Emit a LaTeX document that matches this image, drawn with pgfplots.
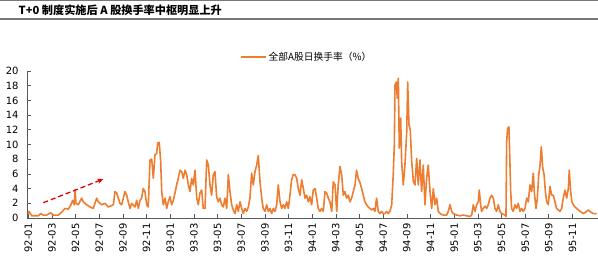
\documentclass[border=0pt]{standalone}
\usepackage{pgfplots}
\pgfplotsset{compat=1.18}
\usetikzlibrary{arrows.meta}
\usepackage{fontspec}
\setmainfont{DejaVu Sans}
\newfontfamily\cjk{Noto Sans CJK SC}
\definecolor{lineor}{RGB}{237,125,49}
\definecolor{axgray}{RGB}{89,89,89}
\begin{document}
\begin{tikzpicture}
\path[use as bounding box] (0,0) rectangle (598bp,256bp);
\draw[color={rgb,255:red,120;green,120;blue,120}, line width=1.3bp] (0,255.3bp) -- (598bp,255.3bp);
\draw[color={rgb,255:red,120;green,120;blue,120}, line width=1.3bp] (0,237bp) -- (598bp,237bp);
\node[anchor=west, inner sep=0pt] at (18.5bp,246bp) {\cjk\bfseries\fontsize{11.2}{13}\selectfont T+0 制度实施后 A 股换手率中枢明显上升};
\begin{axis}[
  at={(27bp,38bp)}, anchor=south west,
  scale only axis, width=571bp, height=147bp,
  xmin=-0.11, xmax=48.16, ymin=0, ymax=20,
  axis x line=bottom, axis y line=left,
  axis line style={-, draw=axgray, line width=0.8bp},
  tick style={draw=axgray, line width=0.6bp},
  tick align=inside,
  major tick length=3.5bp,
  ytick={0,2,...,20},
  xtick={0,2,...,46},
  xticklabels={92-01,92-03,92-05,92-07,92-09,92-11,93-01,93-03,93-05,93-07,93-09,93-11,94-01,94-03,94-05,94-07,94-09,94-11,95-01,95-03,95-05,95-07,95-09,95-11},
  /pgf/number format/assume math mode=true,
  ticklabel style={font=\fontsize{10}{12}\selectfont},
  x tick label style={rotate=90, anchor=east, xshift=0bp},
  xticklabel shift=2bp,
  yticklabel shift=5bp,
  legend style={at={(0.49,1.095)}, anchor=center, draw=none, fill=none, font=\cjk\fontsize{9.8}{11}\selectfont, inner sep=0pt},
  legend image code/.code={\draw[#1] (0bp,0bp) -- (25bp,0bp);},
  clip=false,
]
\addplot[color=lineor, line width=1.6bp, line join=round] coordinates {
(0.00,0.6)(0.06,0.9)(0.29,0.3)(0.57,0.3)(0.85,0.3)(1.05,0.6)(1.27,0.4)(1.55,0.4)(1.89,0.7)(2.11,0.4)(2.54,0.4)(2.82,0.8)(3.10,1.3)(3.38,1.2)(3.61,1.8)(3.75,2.4)(3.89,1.8)(3.95,3.8)(4.03,2.0)(4.23,1.8)(4.51,2.7)(4.65,2.2)(4.93,1.8)(5.22,1.5)(5.49,1.3)(5.78,2.7)(5.92,2.2)(6.20,1.8)(6.48,2.0)(6.76,1.5)(7.19,1.8)(7.33,3.6)(7.47,3.4)(7.61,2.7)(7.75,2.0)(7.89,1.8)(8.17,3.6)(8.32,3.1)(8.45,2.2)(8.60,1.3)(8.74,2.0)(9.02,1.5)(9.16,2.4)(9.30,1.3)(9.44,2.4)(9.58,2.7)(9.72,4.0)(9.86,3.6)(10.01,1.8)(10.14,1.5)(10.29,7.9)(10.43,8.0)(10.57,5.4)(10.71,8.6)(10.85,8.8)(10.94,10.2)(11.07,10.3)(11.19,7.7)(11.28,3.6)(11.41,1.8)(11.56,2.7)(11.70,1.3)(11.83,2.2)
(11.98,2.9)(12.12,1.8)(12.26,2.4)(12.40,3.4)(12.54,4.5)(12.68,5.4)(12.82,6.5)(12.97,6.3)(13.10,5.4)(13.25,6.5)(13.39,5.9)(13.53,4.5)(13.67,3.6)(13.81,5.4)(13.95,4.5)(14.09,6.5)(14.24,2.7)(14.37,1.8)(14.51,3.4)(14.66,3.8)(14.79,1.3)(14.94,1.3)(15.08,7.9)(15.22,7.2)(15.36,4.5)(15.50,3.1)(15.64,5.9)(15.78,6.3)(15.92,2.9)(16.06,2.2)(16.20,2.7)(16.35,1.8)(16.48,1.5)(16.63,2.7)(16.77,1.3)(16.91,5.9)(17.05,3.6)(17.19,1.8)(17.33,1.1)(17.47,0.6)(17.62,1.8)(17.75,0.9)(17.90,2.2)(18.04,1.3)(18.17,0.6)(18.32,1.3)(18.46,0.9)(18.60,1.5)(18.74,2.7)(18.88,6.1)(19.02,4.5)(19.16,6.3)(19.31,7.2)(19.44,8.5)(19.59,4.9)(19.73,2.7)(19.86,1.3)(20.01,0.9)(20.15,1.8)(20.29,0.9)(20.43,1.3)(20.57,0.6)(20.71,1.3)(20.85,0.9)(21.00,1.8)(21.13,4.5)(21.28,2.2)(21.42,1.3)(21.56,1.8)(21.70,1.3)(21.84,2.2)(21.98,1.3)(22.12,3.1)(22.26,5.2)(22.40,5.9)(22.54,5.9)(22.69,5.4)(22.82,4.0)(22.97,3.1)(23.11,5.2)(23.25,4.0)(23.39,2.7)(23.53,3.1)
(23.67,2.2)(23.81,2.9)(23.95,1.8)(24.09,3.8)(24.24,4.0)(24.38,2.7)(24.51,1.3)(24.66,0.9)(24.80,1.3)(24.94,0.9)(25.08,3.6)(25.22,3.4)(25.36,2.7)(25.50,2.2)(25.65,0.9)(25.78,4.9)(25.93,4.5)(26.07,0.9)(26.20,4.5)(26.35,7.0)(26.49,5.9)(26.63,3.1)(26.77,3.6)(26.91,2.7)(27.05,3.1)(27.19,2.2)(27.33,2.7)(27.47,3.6)(27.62,4.5)(27.75,6.5)(27.89,5.4)(28.04,4.8)(28.18,4.0)(28.32,3.1)(28.46,2.2)(28.60,1.8)(28.74,1.5)(28.88,1.3)(29.02,1.1)(29.16,1.3)(29.30,0.9)(29.44,2.7)(29.58,0.9)(29.73,0.6)(29.87,0.9)(30.01,0.6)(30.15,0.6)(30.29,0.9)(30.43,0.6)(30.57,0.9)(30.72,1.8)(30.85,5.9)(30.94,9.9)(31.00,18.1)(31.11,18.5)(31.19,16.3)(31.28,19.0)(31.36,9.5)(31.48,13.6)(31.56,7.7)(31.70,4.5)(31.84,7.2)(31.99,11.7)(32.07,18.5)(32.18,12.7)(32.29,12.0)(32.41,7.7)(32.55,5.0)(32.69,4.5)(32.83,8.1)(32.97,4.5)(33.11,7.9)(33.25,3.6)(33.39,7.2)(33.53,1.8)(33.67,5.4)(33.81,7.2)(33.96,3.6)(34.10,1.3)(34.24,4.0)(34.38,1.8)(34.52,2.7)(34.66,0.9)(34.80,0.6)(35.08,0.4)(35.37,0.4)(35.50,0.9)(35.65,1.8)
(35.79,0.9)(35.93,0.6)(36.21,0.4)(36.49,0.3)(36.77,0.4)(37.06,0.3)(37.34,0.2)(37.48,0.4)(37.62,1.8)(37.76,0.9)(37.90,1.8)(38.04,2.2)(38.12,3.8)(38.24,1.8)(38.32,0.9)(38.46,1.3)(38.61,1.6)(38.75,1.3)(38.88,1.8)(39.03,2.7)(39.17,3.1)(39.31,2.7)(39.45,1.3)(39.59,0.9)(39.73,1.8)(39.87,0.9)(40.02,0.6)(40.30,0.4)(40.38,0.2)(40.44,10.4)(40.52,12.2)(40.63,12.4)(40.72,7.2)(40.78,3.6)(40.86,1.3)(41.00,0.9)(41.14,1.8)(41.28,1.3)(41.42,2.0)(41.56,0.9)(41.70,1.3)(41.84,0.9)(41.99,1.3)(42.13,2.7)(42.27,2.2)(42.41,4.5)(42.55,3.6)(42.69,6.1)(42.77,3.6)(42.92,1.3)(43.03,2.7)(43.15,5.9)(43.26,7.2)(43.37,9.7)(43.49,6.8)(43.60,5.9)(43.71,3.6)(43.82,2.2)(43.96,1.8)(44.10,4.3)(44.24,3.1)(44.38,3.1)(44.52,2.2)(44.66,1.3)(44.80,1.1)(44.94,0.9)(45.09,1.3)(45.22,2.7)(45.37,3.8)(45.51,2.7)(45.65,4.0)(45.73,6.5)(45.85,3.6)(45.95,2.2)(46.07,1.8)(46.21,1.5)(46.36,1.3)(46.64,0.9)(46.92,0.6)(47.20,0.9)(47.34,1.1)(47.48,0.9)(47.76,0.6)(48.05,0.6)
};
\addlegendentry{全部A股日换手率（\%）}
\draw[-{Stealth[length=6bp,width=5bp]}, color=red!90!black, line width=1.3bp, dash pattern=on 5bp off 3bp] (axis cs:1.27,2.08) -- (axis cs:6.34,5.3);
\end{axis}
\end{tikzpicture}
\end{document}
